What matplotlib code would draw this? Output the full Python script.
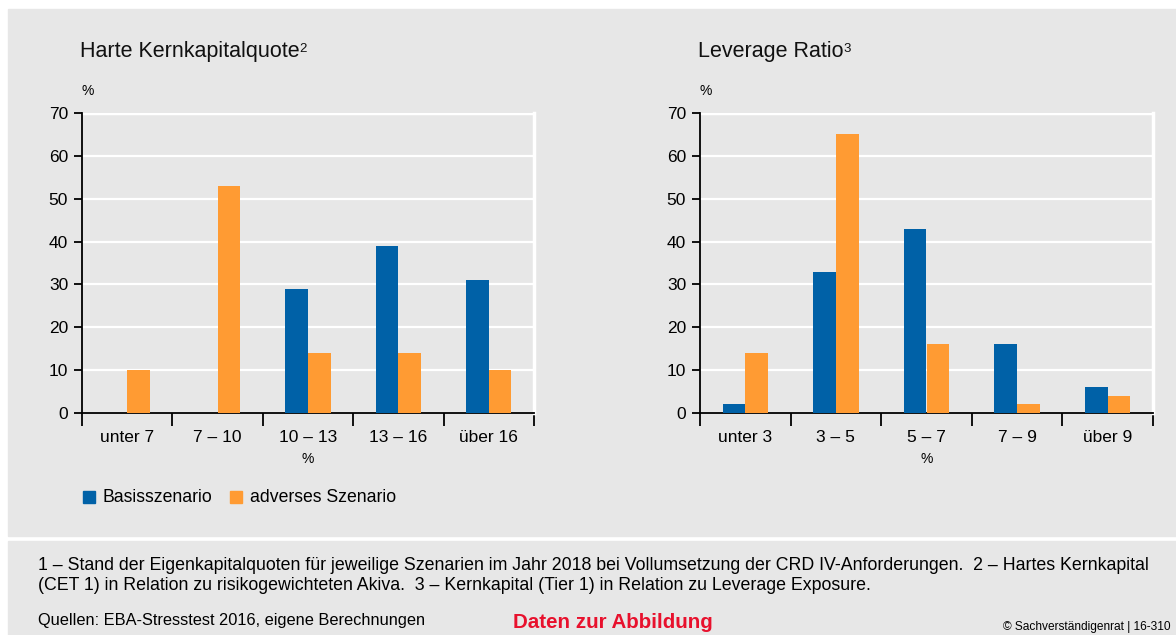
import matplotlib
matplotlib.use("Agg")
import matplotlib.pyplot as plt
import numpy as np
from matplotlib.patches import Rectangle

plt.rcParams["font.family"] = ["Liberation Sans", "DejaVu Sans"]

# ── Data ──────────────────────────────────────────────────────────────────────
cet1_labels = ["unter 7", "7 – 10", "10 – 13", "13 – 16", "über 16"]
cet1_basis = [0, 0, 29, 39, 31]
cet1_advers = [10, 53, 14, 14, 10]

lev_labels = ["unter 3", "3 – 5", "5 – 7", "7 – 9", "über 9"]
lev_basis = [2, 33, 43, 16, 6]
lev_advers = [14, 65, 16, 2, 4]

y_ticks = [0, 10, 20, 30, 40, 50, 60, 70]

BLUE = "#0061A7"
ORANGE = "#FF9B33"
BG = "#E7E7E7"

W, H = 1176, 635
fig = plt.figure(figsize=(W / 100, H / 100), dpi=100)
fig.patch.set_facecolor("white")

# background panels
fig.patches.append(Rectangle((8 / W, 1 - 536 / H), 1, (536 - 9) / H,
                             transform=fig.transFigure, color=BG, zorder=-10))
fig.patches.append(Rectangle((8 / W, 0), 1, (H - 541) / H,
                             transform=fig.transFigure, color=BG, zorder=-10))


def px_ax(x0, x1, ytop, ybot):
    return [x0 / W, 1 - ybot / H, (x1 - x0) / W, (ybot - ytop) / H]


def draw_panel(rect, labels, basis, advers, title, sup):
    ax = fig.add_axes(rect)
    ax.set_facecolor(BG)
    x = np.arange(len(labels))
    bw = 0.25
    ax.bar(x - bw / 2, basis, bw, color=BLUE, zorder=3)
    ax.bar(x + bw / 2, advers, bw, color=ORANGE, zorder=3)
    ax.set_xlim(-0.5, len(labels) - 0.5)
    ax.set_ylim(0, 70)
    ax.set_yticks(y_ticks)
    ax.set_yticklabels([str(t) for t in y_ticks], fontsize=12.5)
    ax.grid(axis="y", color="white", linewidth=1.6, zorder=0)
    ax.axhline(70, color="white", linewidth=2.5, zorder=1)
    # category labels sit between the boundary ticks
    ax.set_xticks(np.arange(len(labels) + 1) - 0.5)
    ax.set_xticklabels([])
    ax.set_xticks(x, minor=True)
    ax.set_xticklabels(labels, minor=True, fontsize=12.5)
    ax.tick_params(axis="x", which="major", length=9, width=1.3, direction="out")
    ax.tick_params(axis="x", which="minor", length=0, pad=12)
    ax.tick_params(axis="y", length=6, width=1.3, pad=4)
    ax.spines["top"].set_visible(False)
    ax.spines["right"].set_color("white")
    ax.spines["right"].set_linewidth(2.5)
    ax.spines["left"].set_linewidth(1.3)
    ax.spines["bottom"].set_linewidth(1.3)
    ax.text(0.5, -0.13, "%", transform=ax.transAxes, ha="center", va="top", fontsize=10)
    ax.text(0.0, 1.05, "%", transform=ax.transAxes, ha="left", va="bottom", fontsize=10)
    t = ax.text(-0.005, 1.17, title, transform=ax.transAxes,
                ha="left", va="bottom", fontsize=15.5, color="#111111")
    ax.annotate(sup, xy=(1, 1), xycoords=t, xytext=(0.3, -1.5), textcoords="offset points",
                ha="left", va="top", fontsize=9.5, color="#111111")
    return ax


draw_panel(px_ax(82, 534, 113, 413), cet1_labels, cet1_basis, cet1_advers,
           "Harte Kernkapitalquote", "2")
draw_panel(px_ax(700, 1153, 113, 413), lev_labels, lev_basis, lev_advers,
           "Leverage Ratio", "3")

# legend
fig.patches.append(Rectangle((83 / W, 1 - 503 / H), 12 / W, 12 / H,
                             transform=fig.transFigure, color=BLUE))
fig.text(102 / W, 1 - 497 / H, "Basisszenario", fontsize=12.7, va="center")
fig.patches.append(Rectangle((230 / W, 1 - 503 / H), 12 / W, 12 / H,
                             transform=fig.transFigure, color=ORANGE))
fig.text(250 / W, 1 - 497 / H, "adverses Szenario", fontsize=12.7, va="center")

# footnotes
fig.text(38 / W, 1 - 565 / H,
         "1 – Stand der Eigenkapitalquoten für jeweilige Szenarien im Jahr 2018 bei Vollumsetzung "
         "der CRD IV-Anforderungen.  2 – Hartes Kernkapital",
         fontsize=12.8, va="center")
fig.text(38 / W, 1 - 586 / H,
         "(CET 1) in Relation zu risikogewichteten Akiva.  3 – Kernkapital (Tier 1) in Relation "
         "zu Leverage Exposure.",
         fontsize=12.8, va="center")
fig.text(38 / W, 1 - 620 / H, "Quellen: EBA-Stresstest 2016, eigene Berechnungen",
         fontsize=11.8, va="center")
fig.text(513 / W, 1 - 623 / H, "Daten zur Abbildung", fontsize=14.8, va="center",
         color="#E8112D", fontweight="bold")
fig.text(1003 / W, 1 - 627 / H, "© Sachverständigenrat | 16-310", fontsize=8.6, va="center")

fig.savefig("out.png", dpi=100, facecolor=fig.get_facecolor())
